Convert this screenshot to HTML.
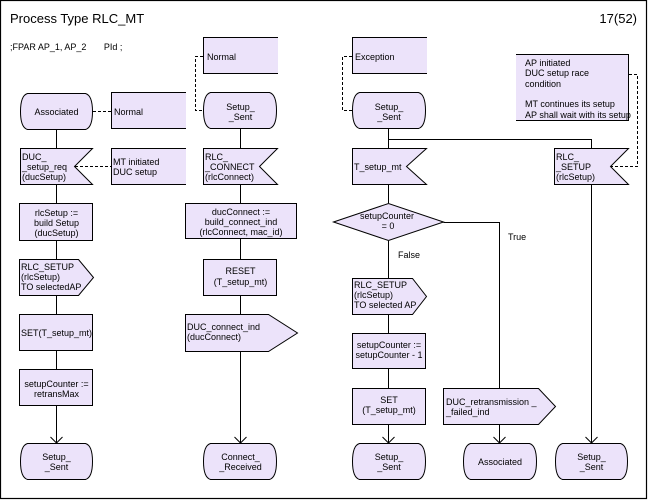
<!DOCTYPE html>
<html><head><meta charset="utf-8"><style>
html,body{margin:0;padding:0;background:#fff;}
svg{display:block;}
text{font-family:"Liberation Sans",sans-serif;font-size:9px;fill:#000;}
.c{text-anchor:middle;}
.f{fill:#ECE3FA;stroke:#000;stroke-width:1;}
.n{fill:#ECE3FA;stroke:none;}
.l{stroke:#000;stroke-width:1;fill:none;}
.d{stroke:#000;stroke-width:1;fill:none;stroke-dasharray:3,2;}
</style></head><body>
<svg width="650" height="502" viewBox="0 0 650 502" xmlns="http://www.w3.org/2000/svg">
<rect x="0.5" y="0.5" width="646" height="498" fill="#fff" stroke="#000" stroke-width="1.2"/>
<text x="10" y="23" style="font-size:13px">Process Type RLC_MT</text>
<text x="637" y="23" style="font-size:13px;text-anchor:end">17(52)</text>
<text x="10" y="50">;FPAR AP_1, AP_2 &#160;&#160;&#160;&#160;&#160;&#160;PId ;</text>

<!-- ===== Column 1 ===== -->
<path class="f" d="M27.5 93.5 H85.5 Q92.5 95.5 92.5 111.5 Q92.5 127.5 85.5 129.5 H27.5 Q20.5 127.5 20.5 111.5 Q20.5 95.5 27.5 93.5 Z"/>
<text class="c" x="56.5" y="115">Associated</text>
<line class="d" x1="93" y1="111.5" x2="111" y2="111.5"/>
<rect class="n" x="111" y="92" width="75" height="37"/>
<path class="l" d="M186 92.5 H111.5 V128.5 H186"/>
<text x="114" y="115">Normal</text>

<line class="l" x1="56.5" y1="129" x2="56.5" y2="148"/>
<polygon class="f" points="20.5,148.5 92.5,148.5 74.5,166.5 92.5,184.5 20.5,184.5"/>
<text x="22" y="160">DUC_</text>
<text x="22" y="170">_setup_req</text>
<text x="22" y="180">(ducSetup)</text>
<line class="d" x1="75" y1="166.5" x2="111" y2="166.5"/>
<rect class="n" x="111" y="148" width="75" height="37"/>
<path class="l" d="M186 148.5 H111.5 V184.5 H186"/>
<text x="113" y="165">MT initiated</text>
<text x="113" y="175">DUC setup</text>

<line class="l" x1="56.5" y1="185" x2="56.5" y2="203"/>
<rect class="f" x="19.5" y="203.5" width="73" height="37"/>
<text class="c" x="56.5" y="216">rlcSetup :=</text>
<text class="c" x="56.5" y="226">build Setup</text>
<text class="c" x="56.5" y="236">(ducSetup)</text>

<line class="l" x1="56.5" y1="241" x2="56.5" y2="259"/>
<polygon class="f" points="19.5,259.5 78.5,259.5 93.5,277.5 78.5,295.5 19.5,295.5"/>
<text x="21" y="270">RLC_SETUP</text>
<text x="21" y="280">(rlcSetup)</text>
<text x="21" y="290">TO selectedAP</text>

<line class="l" x1="56.5" y1="296" x2="56.5" y2="314"/>
<rect class="f" x="19.5" y="314.5" width="73" height="36"/>
<text class="c" x="56.5" y="336">SET(T_setup_mt)</text>

<line class="l" x1="56.5" y1="351" x2="56.5" y2="369"/>
<rect class="f" x="19.5" y="369.5" width="73" height="36"/>
<text class="c" x="56.5" y="387">setupCounter :=</text>
<text class="c" x="56.5" y="397">retransMax</text>

<line class="l" x1="56.5" y1="406" x2="56.5" y2="443"/>
<path class="l" d="M50.5 437 L56.5 443 L62.5 437"/>
<path class="f" d="M27.5 443.5 H85.5 Q92.5 445.5 92.5 461.5 Q92.5 477.5 85.5 479.5 H27.5 Q20.5 477.5 20.5 461.5 Q20.5 445.5 27.5 443.5 Z"/>
<text class="c" x="56.5" y="460">Setup_</text>
<text class="c" x="56.5" y="470">_Sent</text>

<!-- ===== Column 2 ===== -->
<rect class="n" x="203" y="37" width="75" height="37"/>
<path class="l" d="M278 37.5 H203.5 V73.5 H278"/>
<text x="207" y="60">Normal</text>
<path class="d" d="M203 56.5 H195.5 V110.5 H203"/>
<path class="f" d="M210.5 92.5 H269.5 Q276.5 94.5 276.5 110.5 Q276.5 126.5 269.5 128.5 H210.5 Q203.5 126.5 203.5 110.5 Q203.5 94.5 210.5 92.5 Z"/>
<text class="c" x="240.5" y="110">Setup_</text>
<text class="c" x="240.5" y="120">_Sent</text>

<line class="l" x1="240.5" y1="129" x2="240.5" y2="148"/>
<polygon class="f" points="203.5,148.5 277.5,148.5 259.5,166.5 277.5,184.5 203.5,184.5"/>
<text x="205" y="160">RLC_</text>
<text x="205" y="170">_CONNECT</text>
<text x="205" y="180">(rlcConnect)</text>

<line class="l" x1="240.5" y1="185" x2="240.5" y2="203"/>
<rect class="f" x="185.5" y="203.5" width="111" height="35"/>
<text class="c" x="241" y="215">ducConnect :=</text>
<text class="c" x="241" y="225">build_connect_ind</text>
<text class="c" x="241" y="235">(rlcConnect, mac_id)</text>

<line class="l" x1="240.5" y1="239" x2="240.5" y2="259"/>
<rect class="f" x="203.5" y="259.5" width="73" height="36"/>
<text class="c" x="240.5" y="274">RESET</text>
<text class="c" x="240.5" y="285">(T_setup_mt)</text>

<line class="l" x1="240.5" y1="296" x2="240.5" y2="314"/>
<polygon class="f" points="185.5,314.5 268.5,314.5 297.5,333 268.5,351.5 185.5,351.5"/>
<text x="187" y="330">DUC_connect_ind</text>
<text x="187" y="340">(ducConnect)</text>

<line class="l" x1="240.5" y1="352" x2="240.5" y2="443"/>
<path class="l" d="M234.5 437 L240.5 443 L246.5 437"/>
<path class="f" d="M210.5 443.5 H269.5 Q276.5 445.5 276.5 461.5 Q276.5 477.5 269.5 479.5 H210.5 Q203.5 477.5 203.5 461.5 Q203.5 445.5 210.5 443.5 Z"/>
<text class="c" x="240.5" y="460">Connect_</text>
<text class="c" x="240.5" y="470">_Received</text>

<!-- ===== Column 3 ===== -->
<rect class="n" x="352" y="37" width="75" height="37"/>
<path class="l" d="M427 37.5 H352.5 V73.5 H427"/>
<text x="355" y="60">Exception</text>
<path class="d" d="M352 56.5 H342.5 V110.5 H352"/>
<path class="f" d="M359.5 92.5 H418.5 Q425.5 94.5 425.5 110.5 Q425.5 126.5 418.5 128.5 H359.5 Q352.5 126.5 352.5 110.5 Q352.5 94.5 359.5 92.5 Z"/>
<text class="c" x="389" y="110">Setup_</text>
<text class="c" x="389" y="120">_Sent</text>

<line class="l" x1="388.5" y1="129" x2="388.5" y2="148"/>
<path class="l" d="M388.5 139.5 H591.5 V148"/>
<polygon class="f" points="352.5,148.5 426.5,148.5 406.5,166.5 426.5,184.5 352.5,184.5"/>
<text x="354" y="170">T_setup_mt</text>

<line class="l" x1="388.5" y1="185" x2="388.5" y2="203"/>
<polygon class="f" points="333.5,222 388.5,203.5 443.5,222 388.5,240.5"/>
<text class="c" x="387" y="219">setupCounter</text>
<text class="c" x="388" y="229">= 0</text>
<path class="l" d="M443.5 222.5 H499.5 V388"/>
<text x="508" y="240">True</text>
<text x="398" y="258">False</text>

<line class="l" x1="388.5" y1="241" x2="388.5" y2="278"/>
<polygon class="f" points="352.5,278.5 412.5,278.5 426.5,296.5 412.5,314.5 352.5,314.5"/>
<text x="354" y="288">RLC_SETUP</text>
<text x="354" y="298">(rlcSetup)</text>
<text x="354" y="308">TO selected AP</text>

<line class="l" x1="388.5" y1="315" x2="388.5" y2="333"/>
<rect class="f" x="352.5" y="333.5" width="73" height="35"/>
<text class="c" x="389" y="348">setupCounter :=</text>
<text class="c" x="389" y="358">setupCounter - 1</text>

<line class="l" x1="388.5" y1="369" x2="388.5" y2="388"/>
<rect class="f" x="352.5" y="388.5" width="73" height="36"/>
<text class="c" x="389" y="403">SET</text>
<text class="c" x="389" y="413">(T_setup_mt)</text>

<line class="l" x1="388.5" y1="425" x2="388.5" y2="443"/>
<path class="l" d="M382.5 437 L388.5 443 L394.5 437"/>
<path class="f" d="M359.5 443.5 H418.5 Q425.5 445.5 425.5 461.5 Q425.5 477.5 418.5 479.5 H359.5 Q352.5 477.5 352.5 461.5 Q352.5 445.5 359.5 443.5 Z"/>
<text class="c" x="389" y="460">Setup_</text>
<text class="c" x="389" y="470">_Sent</text>

<!-- ===== Column 4 ===== -->
<polygon class="f" points="443.5,388.5 538.5,388.5 555.5,406.5 538.5,424.5 443.5,424.5"/>
<text x="446" y="405">DUC_retransmission _</text>
<text x="446" y="415">_failed_ind</text>
<line class="l" x1="499.5" y1="425" x2="499.5" y2="443"/>
<path class="l" d="M493.5 437 L499.5 443 L505.5 437"/>
<path class="f" d="M470.5 443.5 H529.5 Q536.5 445.5 536.5 461.5 Q536.5 477.5 529.5 479.5 H470.5 Q463.5 477.5 463.5 461.5 Q463.5 445.5 470.5 443.5 Z"/>
<text class="c" x="500" y="465">Associated</text>

<!-- ===== Column 5 ===== -->
<rect class="n" x="516" y="54" width="113" height="67"/>
<path class="l" d="M516 54.5 H628.5 V120.5 H516"/>
<text x="525" y="66">AP initiated</text>
<text x="525" y="76">DUC setup race</text>
<text x="525" y="87">condition</text>
<text x="525" y="107">MT continues its setup</text>
<text x="525" y="118">AP shall wait with its setup</text>
<path class="d" d="M629 74.5 H637.5 V166.5 H611"/>

<polygon class="f" points="554.5,148.5 628.5,148.5 610.5,166.5 628.5,184.5 554.5,184.5"/>
<text x="556" y="160">RLC_</text>
<text x="556" y="170">_SETUP</text>
<text x="556" y="180">(rlcSetup)</text>

<line class="l" x1="591.5" y1="185" x2="591.5" y2="443"/>
<path class="l" d="M585.5 437 L591.5 443 L597.5 437"/>
<path class="f" d="M562.5 443.5 H620.5 Q627.5 445.5 627.5 461.5 Q627.5 477.5 620.5 479.5 H562.5 Q555.5 477.5 555.5 461.5 Q555.5 445.5 562.5 443.5 Z"/>
<text class="c" x="591.5" y="460">Setup_</text>
<text class="c" x="591.5" y="470">_Sent</text>
</svg>
</body></html>
